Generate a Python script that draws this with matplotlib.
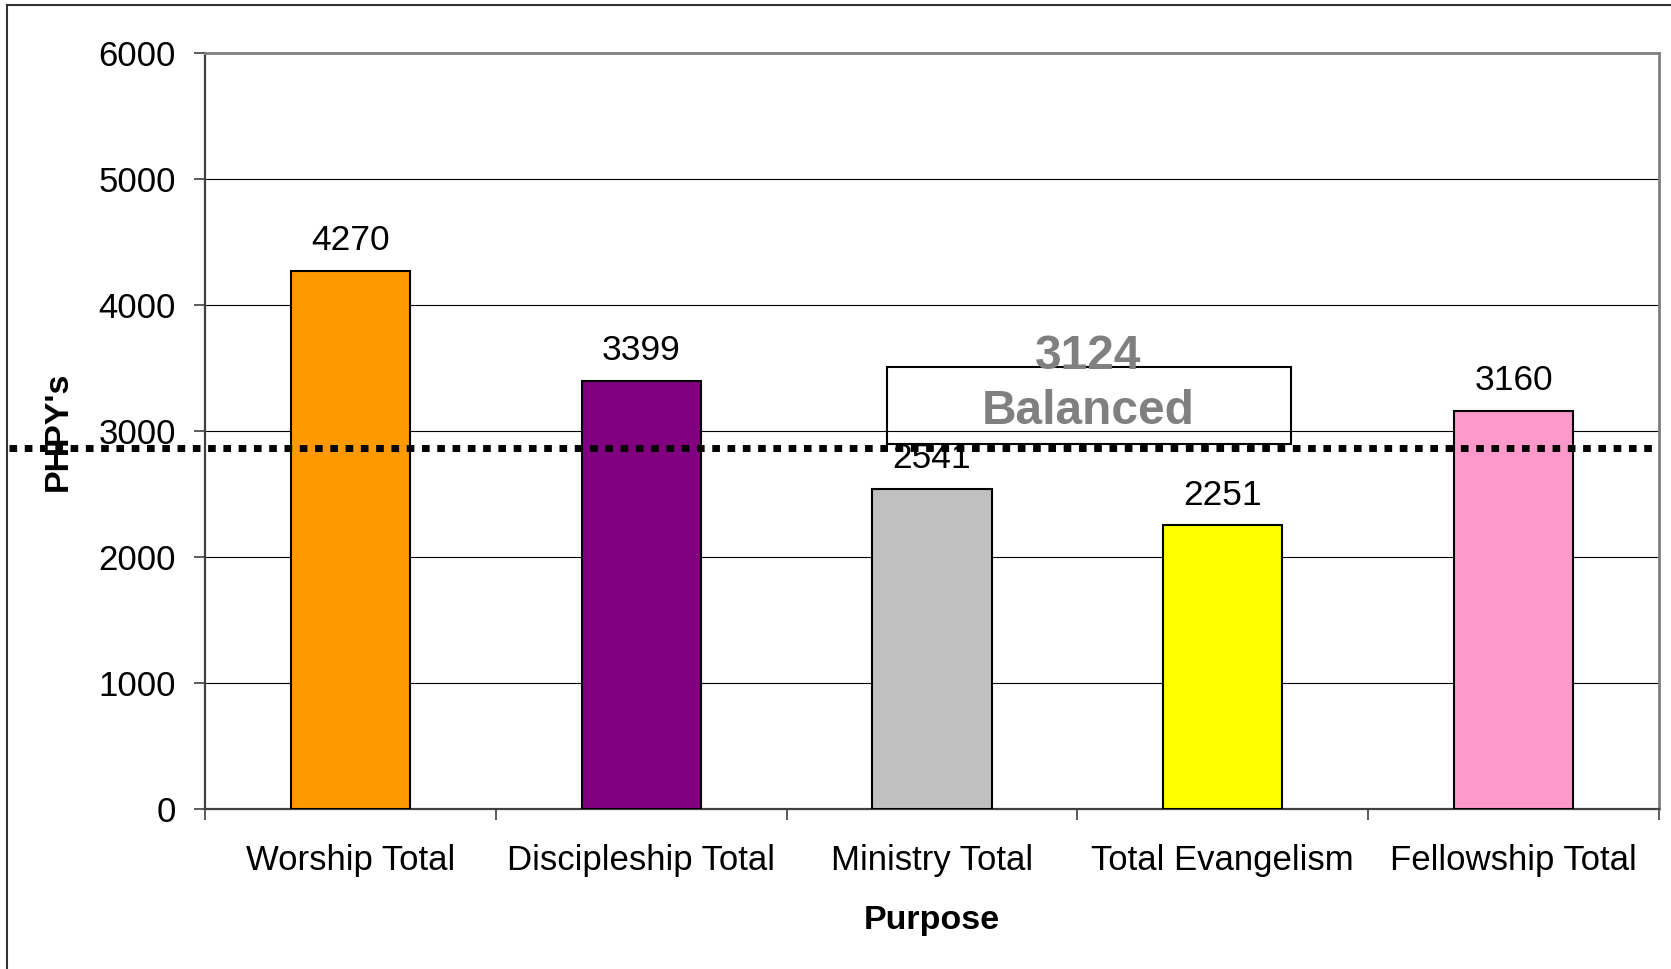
import matplotlib.pyplot as plt
import matplotlib.transforms as mtransforms
from matplotlib.patches import Rectangle
from matplotlib.lines import Line2D
import numpy as np

plt.rcParams['font.family'] = ['Liberation Sans', 'DejaVu Sans']

categories = ['Worship Total', 'Discipleship Total', 'Ministry Total',
              'Total Evangelism', 'Fellowship Total']
values = [4270, 3399, 2541, 2251, 3160]
colors = ['#FF9900', '#800080', '#C0C0C0', '#FFFF00', '#FF99CC']
yticks = [0, 1000, 2000, 3000, 4000, 5000, 6000]
balanced_value = 3124
balanced_line = 2865

W, H = 1671, 969
fig = plt.figure(figsize=(W / 100, H / 100), dpi=100)
ax = fig.add_axes([205 / W, 1 - 809 / H, (1659 - 205) / W, (809 - 53) / H])

x = np.arange(len(categories))
bars = ax.bar(x, values, width=0.41, color=colors, edgecolor='black', linewidth=1.5, zorder=3)

for xi, v in zip(x, values):
    ax.annotate(str(v), (xi, v), xytext=(0, 15), textcoords='offset points',
                ha='center', va='baseline', fontsize=25.5, zorder=4)

ax.set_xlim(-0.5, len(categories) - 0.5)
ax.set_ylim(0, 6000)
ax.set_yticks(yticks)
ax.tick_params(axis='y', labelsize=25, length=8, width=1.2, pad=13, color='#404040')
ax.set_xticks(x)
ax.set_xticklabels(categories)
ax.tick_params(axis='x', which='major', labelsize=25, length=0, pad=25)
ax.set_xticks(np.arange(-0.5, len(categories)), minor=True)
ax.tick_params(axis='x', which='minor', length=8, width=1.2, color='#404040')

ax.yaxis.grid(True, color='black', linewidth=0.8, zorder=0)
ax.set_axisbelow(True)
for side in ['left', 'bottom']:
    ax.spines[side].set_color('#404040')
    ax.spines[side].set_linewidth(1.6)
for side in ['top', 'right']:
    ax.spines[side].set_color('#808080')
    ax.spines[side].set_linewidth(2)

ax.set_ylabel("PHPY's", fontsize=24.5, fontweight='bold')
ax.yaxis.set_label_coords(58 / W, 1 - 431 / H, transform=fig.transFigure)
ax.yaxis.label.set_va('center')
ax.set_xlabel('Purpose', fontsize=24.5, fontweight='bold')
ax.xaxis.set_label_coords(0.5 * (205 + 1659) / W, 1 - 920 / H, transform=fig.transFigure)
ax.xaxis.label.set_va('center')

# balanced box and dotted line
ax.add_patch(Rectangle((1.845, 2897), 3.235 - 1.845, 3508 - 2897, fill=False,
                       edgecolor='black', linewidth=1.5, zorder=5))
ax.text(2.536, 3590, str(balanced_value), ha='center', va='center', fontsize=34.5,
        fontweight='bold', color='#808080', zorder=6)
ax.text(2.536, 3155, 'Balanced', ha='center', va='center', fontsize=34.5,
        fontweight='bold', color='#808080', zorder=6)

trans = mtransforms.blended_transform_factory(fig.transFigure, ax.transData)
ax.plot([9 / W, 1652 / W], [balanced_line, balanced_line], transform=trans,
        color='black', linewidth=5, linestyle=(0, (1.1, 1.1)), clip_on=False, zorder=7)

# outer border (left and top edges visible)
fig.add_artist(Line2D([7 / W, 7 / W], [0, 1 - 5 / H], color='#333333', linewidth=1.5))
fig.add_artist(Line2D([7 / W, 1], [1 - 5 / H, 1 - 5 / H], color='#333333', linewidth=1.5))

fig.savefig('out.png', dpi=100)
